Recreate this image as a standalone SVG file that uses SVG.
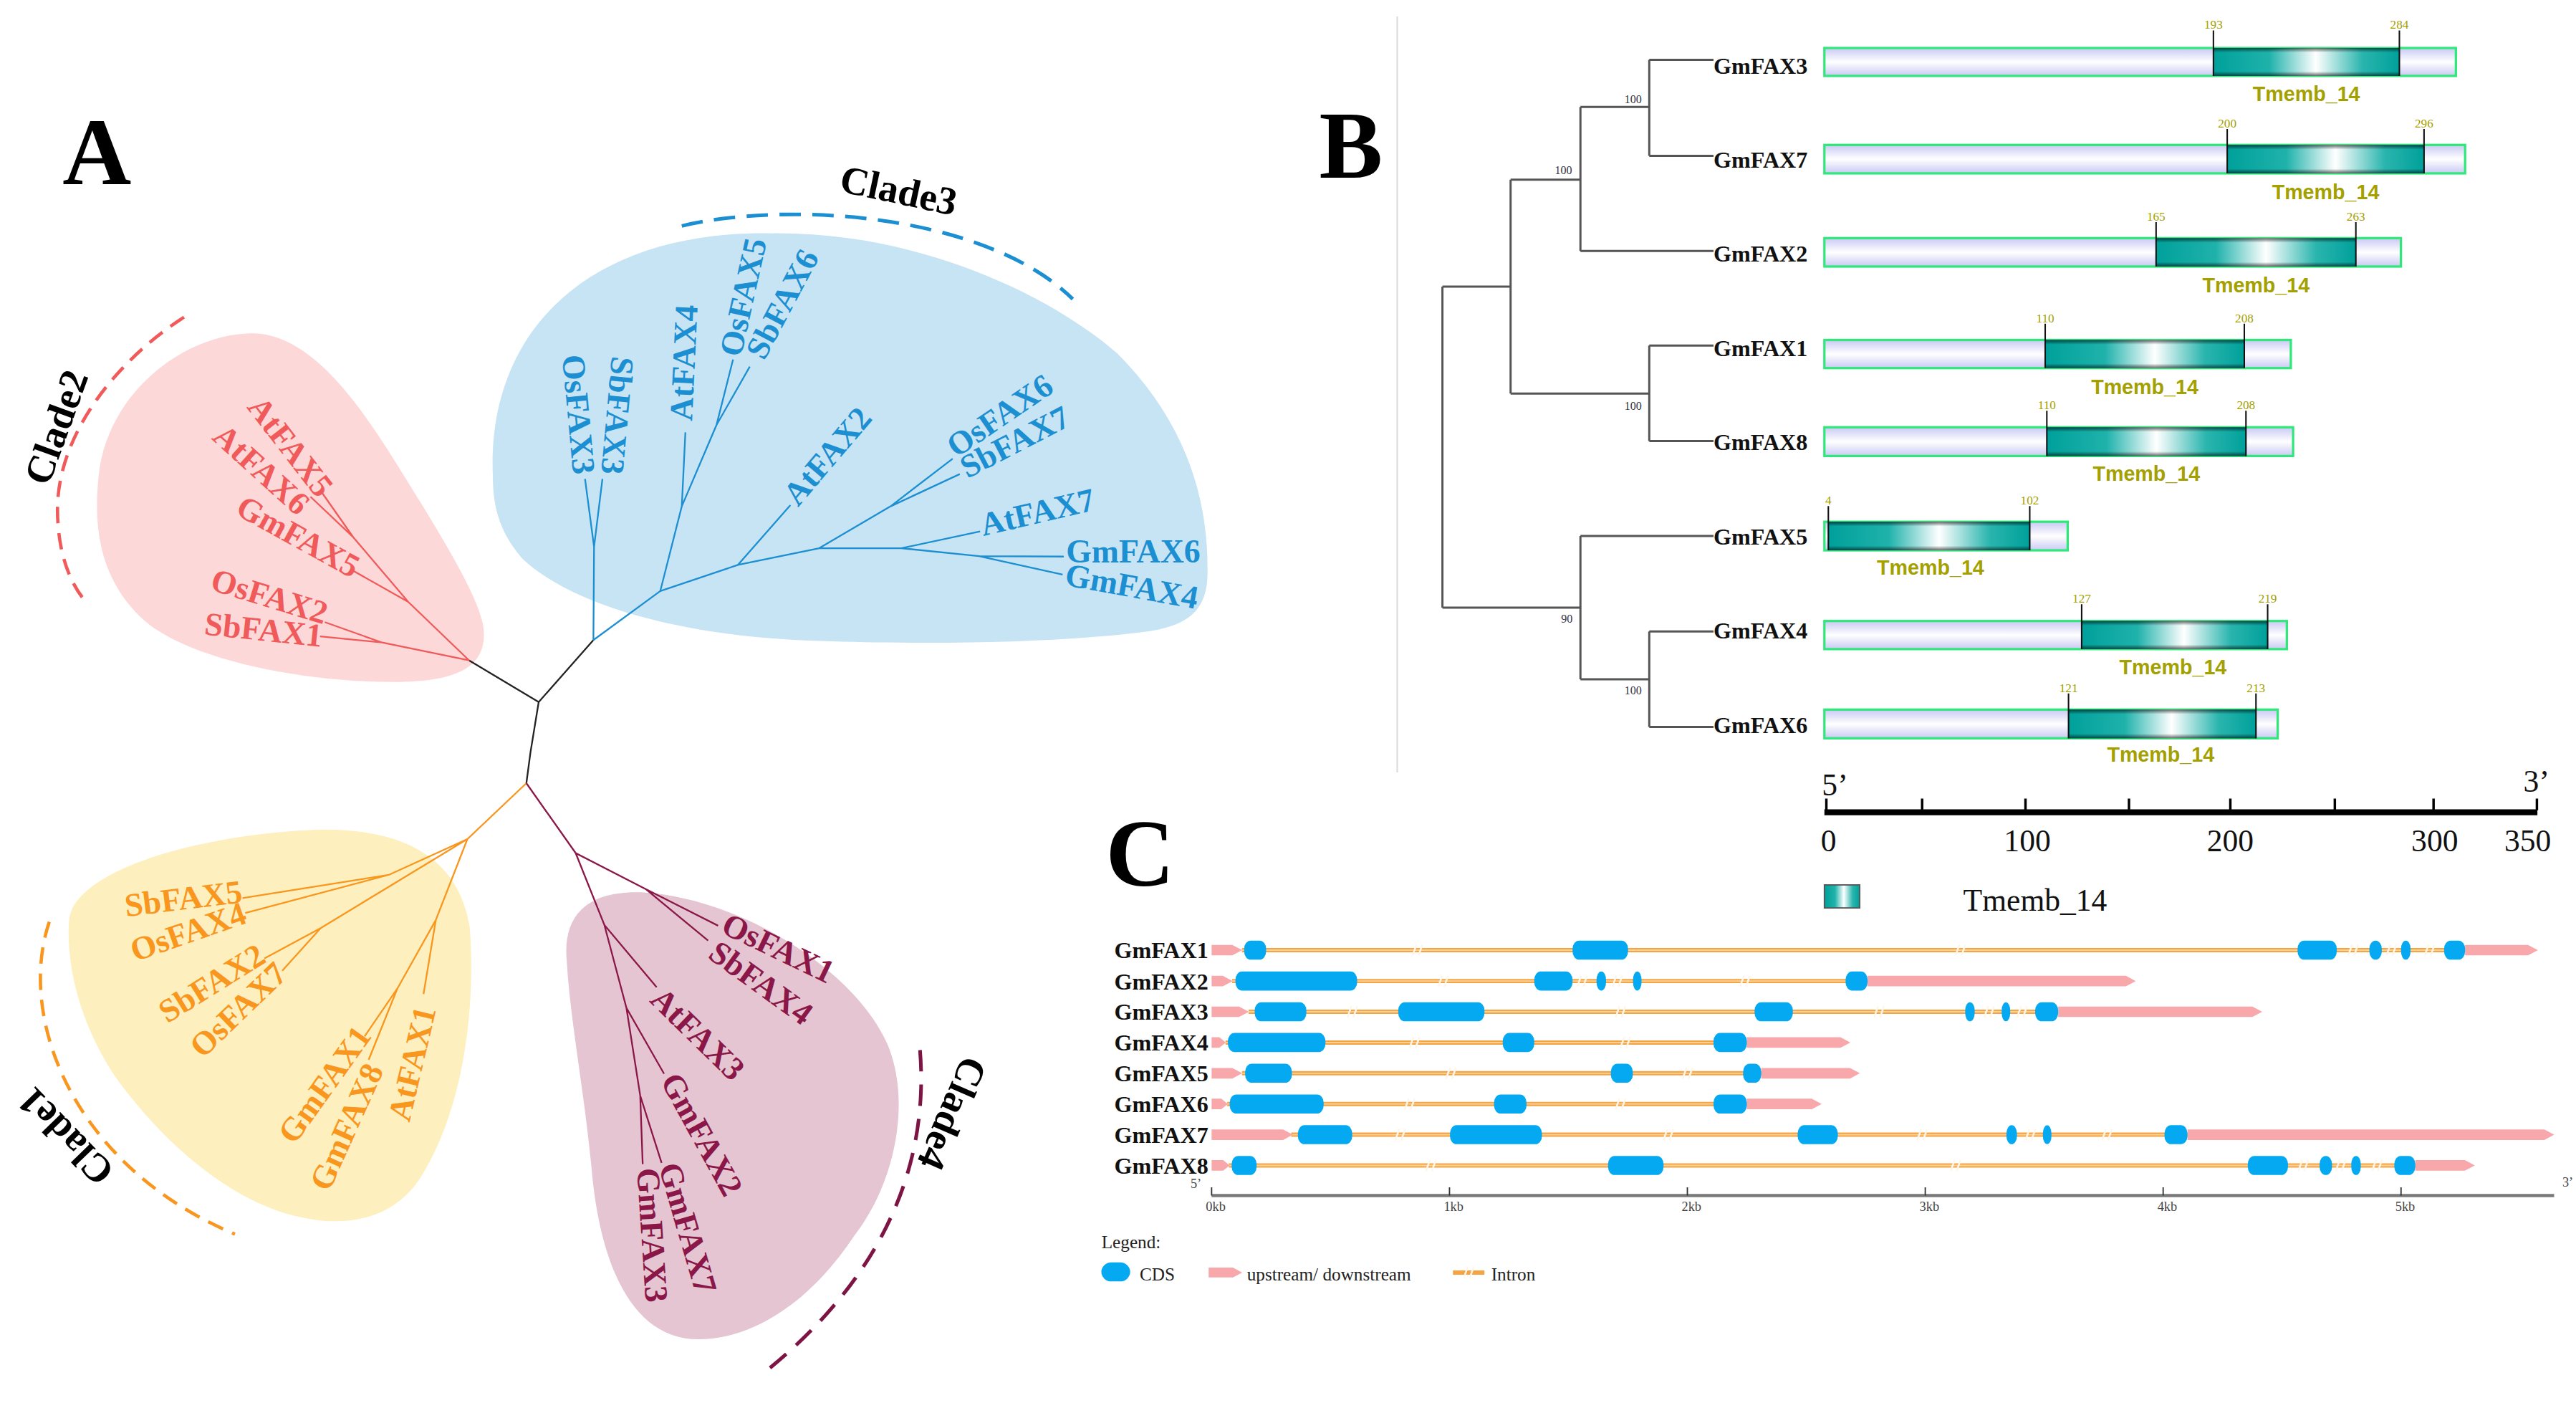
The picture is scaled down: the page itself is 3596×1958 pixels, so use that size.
<svg xmlns="http://www.w3.org/2000/svg" width="3596" height="1958" viewBox="0 0 3596 1958">
<defs>
<style>
.lt{font-family:"Liberation Serif","Times New Roman",serif;font-weight:bold;font-size:20px;text-anchor:middle}
.clade{font-family:"Liberation Serif",serif;font-weight:bold;font-size:24px;text-anchor:middle;fill:#000}
.big{font-family:"Liberation Serif",serif;font-weight:bold;font-size:58px;fill:#000}
.bg{font-family:"Liberation Serif",serif;font-weight:bold;font-size:14px;fill:#111}
.num{font-family:"Liberation Serif",serif;font-size:7.5px;fill:#a3a000;text-anchor:middle}
.tm{font-family:"Liberation Sans",Arial,sans-serif;font-weight:bold;font-size:12.5px;fill:#a3a000;text-anchor:middle}
.bs{font-family:"Liberation Serif",serif;font-size:7px;fill:#334}
.ax{font-family:"Liberation Serif",serif;font-size:19px;fill:#111}
.cg{font-family:"Liberation Serif",serif;font-weight:bold;font-size:14px;fill:#111;text-anchor:end}
.ck{font-family:"Liberation Serif",serif;font-size:8px;fill:#444;text-anchor:middle}
.leg{font-family:"Liberation Serif",serif;font-size:11px;fill:#222}
.blue{fill:#1b8fd2}.red{fill:#f15a5a}.yel{fill:#f8961d}.pur{fill:#8a1748}
.br{fill:none;stroke-width:1}
.btree{fill:none;stroke:#555;stroke-width:1.3}
.prot{fill:url(#prot);stroke:#2ee87a;stroke-width:1.4}
.dom{fill:url(#dom)}
.shade{fill:url(#domShade)}
.tick{stroke:#111;stroke-width:0.9}
.cds{fill:#05a9f2}
.utr{fill:#f8a8aa}
.intr{stroke:#f5a442;stroke-width:2.6;fill:none}
.intr2{stroke:#fcd39e;stroke-width:0.8;fill:none}
</style>
<linearGradient id="dom" x1="0" y1="0" x2="1" y2="0">
<stop offset="0" stop-color="#00a09a"/>
<stop offset="0.3" stop-color="#1fb2ab"/>
<stop offset="0.55" stop-color="#ffffff"/>
<stop offset="0.8" stop-color="#2ab5ae"/>
<stop offset="1" stop-color="#00a09a"/>
</linearGradient>
<linearGradient id="domShade" x1="0" y1="0" x2="0" y2="1">
<stop offset="0" stop-color="#000" stop-opacity="0.6"/>
<stop offset="0.16" stop-color="#000" stop-opacity="0"/>
<stop offset="0.84" stop-color="#000" stop-opacity="0"/>
<stop offset="1" stop-color="#000" stop-opacity="0.6"/>
</linearGradient>
<linearGradient id="prot" x1="0" y1="0" x2="0" y2="1">
<stop offset="0" stop-color="#c9c9f4"/>
<stop offset="0.5" stop-color="#ffffff"/>
<stop offset="1" stop-color="#c9c9f4"/>
</linearGradient>
<g id="brk"><path d="M-3,3.4 L-0.6,-3.4 M0.6,3.4 L3,-3.4" stroke="#fff6ea" stroke-width="1.1" fill="none"/></g>
</defs>
<rect width="3596" height="1958" fill="#ffffff"/>
<g transform="scale(2.29337)">

<!-- ================= PANEL A ================= -->
<g id="panelA">
<text class="big" x="38" y="112">A</text>

<g id="blobs">
<path id="blob-clade3" fill="#c7e4f4" d="M300,290 C296,200 360,140 470,142 C560,141 640,180 680,215 C720,255 735,300 735,345 C736,370 725,380 700,384 C640,392 560,392 500,390 C420,388 350,370 318,340 C305,325 300,310 300,290 Z"/>
<path id="blob-clade2" fill="#fdd8d8" d="M150,203 C185,200 215,240 240,280 C265,320 290,360 294,380 C298,405 280,415 240,415 C180,415 110,400 85,375 C60,350 57,320 60,290 C65,240 110,205 150,203 Z"/>
<path id="blob-clade1" fill="#feefbf" d="M42,560 C45,530 120,508 190,505 C250,503 280,525 286,565 C290,620 280,680 255,718 C240,740 215,746 190,742 C140,735 95,690 70,655 C50,625 40,590 42,560 Z"/>
<path id="blob-clade4" fill="#e4c5d1" d="M345,585 C342,555 360,542 390,543 C450,546 520,590 540,635 C555,670 545,720 520,752 C495,790 460,815 425,815 C385,815 365,770 360,710 C355,660 347,620 345,585 Z"/>
</g>

<g id="connectors-tree">
<path class="br" stroke="#222" d="M285.6,401.9 L327.9,427.2 L361.2,389.5 M327.9,427.2 L322.9,457.8 L320.4,476.6"/>
<path class="br" stroke="#1b8fd2" d="M361.2,389.5 L361.6,332.8 L356.1,291.4 M361.6,332.8 L366.7,291.4 M361.2,389.5 L401.9,359.7 L415,308.1 L417.2,263.1 M415,308.1 L436.1,258.7 L446.2,218.8 M436.1,258.7 L456.4,223.1 M401.9,359.7 L449.1,343.8 L481.1,307.4 M449.1,343.8 L498.6,333.6 L542.1,308.1 L579.9,279.1 M542.1,308.1 L584.2,288.5 M498.6,333.6 L548.6,333.6 L596.6,323.4 M548.6,333.6 L595.9,338.4 L647.5,338.7 M595.9,338.4 L646.8,349.6"/>
<path class="br" stroke="#f15a5a" d="M285.6,401.9 L248.5,366.3 L215.1,327 L196.2,300.1 M215.1,327 L189,302.3 M248.5,366.3 L215.1,347.4 M285.6,401.9 L232.6,391 L197.7,378.6 M232.6,391 L194.8,387.3"/>
<path class="br" stroke="#f8961d" d="M320.4,476.6 L284.5,510.6 L236.9,532.3 L147.6,546.5 M236.9,532.3 L149.3,555.6 M284.5,510.6 L195.2,564.8 L161,583.2 M195.2,564.8 L171.8,590.7 M284.5,510.6 L265.3,559.8 L257.8,604.9 M265.3,559.8 L241.9,601.5 L221.9,630.7 M241.9,601.5 L224.4,644.9"/>
<path class="br" stroke="#8a1748" d="M320.4,476.6 L350.4,519.1 L393,541 L437.1,563.3 M393,541 L431,572.4 M350.4,519.1 L367.9,562.9 L399.7,600.8 M367.9,562.9 L381.3,613.3 L404.2,653.4 M381.3,613.3 L389.7,666.7 L402.7,707.6 M389.7,666.7 L391.2,708.4"/>
</g>

<g id="clade-arcs" fill="none">
<path d="M415,137.5 C480,122 600,130 653,182" stroke="#1b8fd2" stroke-width="2.2" stroke-dasharray="13 7"/>
<path d="M112,193 C70,220 35,265 35,310 C35,335 42,355 53,367" stroke="#f15a5a" stroke-width="2" stroke-dasharray="10 6"/>
<path d="M30,561 C10,620 45,710 143,751" stroke="#f8961d" stroke-width="2" stroke-dasharray="10 6"/>
<path d="M560,639 C565,700 545,770 468,833" stroke="#7e1443" stroke-width="2.2" stroke-dasharray="13 8"/>
</g>

<g id="clade-labels">
<text class="clade" dy="0.33em" transform="translate(547,116) rotate(12)">Clade3</text>
<text class="clade" dy="0.33em" transform="translate(34.3,260) rotate(-70)">Clade2</text>
<text class="clade" dy="0.33em" transform="translate(40,691.5) rotate(-134)">Clade1</text>
<text class="clade" dy="0.33em" transform="translate(579.5,677.5) rotate(113.5)">Clade4</text>
</g>

<g id="leaves-clade3" class="blue">
<text id="a-osfax3" class="lt" dy="0.33em" transform="translate(352.1,252.2) rotate(84.8)">OsFAX3</text>
<text id="a-sbfax3" class="lt" dy="0.33em" transform="translate(375.7,252.9) rotate(95.2)">SbFAX3</text>
<text id="a-atfax4" class="lt" dy="0.33em" transform="translate(416.3,220.8) rotate(-87.2)">AtFAX4</text>
<text id="a-osfax5" class="lt" dy="0.33em" transform="translate(452.4,180.8) rotate(-77.5)">OsFAX5</text>
<text id="a-sbfax6" class="lt" dy="0.33em" transform="translate(476.2,185) rotate(-62)">SbFAX6</text>
<text id="a-atfax2" class="lt" dy="0.33em" transform="translate(503.6,277.6) rotate(-49.6)">AtFAX2</text>
<text id="a-osfax6" class="lt" dy="0.33em" transform="translate(608.6,252.9) rotate(-34.2)">OsFAX6</text>
<text id="a-sbfax7" class="lt" dy="0.33em" transform="translate(617.7,269) rotate(-27.4)">SbFAX7</text>
<text id="a-atfax7" class="lt" dy="0.33em" transform="translate(631.5,311.7) rotate(-13.1)">AtFAX7</text>
<text id="a-gmfax6" class="lt" dy="0.33em" transform="translate(689.8,335.8)">GmFAX6</text>
<text id="a-gmfax4" class="lt" dy="0.33em" transform="translate(688.9,356.8) rotate(10.3)">GmFAX4</text>
</g>
<g id="leaves-clade2" class="red">
<text id="a-atfax5" class="lt" dy="0.33em" transform="translate(176.8,271.8) rotate(52.2)">AtFAX5</text>
<text id="a-atfax6" class="lt" dy="0.33em" transform="translate(159.1,285.8) rotate(42.1)">AtFAX6</text>
<text id="a-gmfax5" class="lt" dy="0.33em" transform="translate(181.5,326.5) rotate(28.8)">GmFAX5</text>
<text id="a-osfax2" class="lt" dy="0.33em" transform="translate(164,363) rotate(17)">OsFAX2</text>
<text id="a-sbfax1" class="lt" dy="0.33em" transform="translate(160.4,383.3) rotate(6)">SbFAX1</text>
</g>
<g id="leaves-clade1" class="yel">
<text id="a-sbfax5" class="lt" dy="0.33em" transform="translate(111.6,546.9) rotate(-7)">SbFAX5</text>
<text id="a-osfax4" class="lt" dy="0.33em" transform="translate(114.5,567.1) rotate(-19.1)">OsFAX4</text>
<text id="a-sbfax2" class="lt" dy="0.33em" transform="translate(128.9,598.4) rotate(-32)">SbFAX2</text>
<text id="a-osfax7" class="lt" dy="0.33em" transform="translate(145,614.5) rotate(-44)">OsFAX7</text>
<text id="a-gmfax1" class="lt" dy="0.33em" transform="translate(197.6,660) rotate(-54.5)">GmFAX1</text>
<text id="a-gmfax8" class="lt" dy="0.33em" transform="translate(211,685.8) rotate(-65.8)">GmFAX8</text>
<text id="a-atfax1" class="lt" dy="0.33em" transform="translate(250.9,647.4) rotate(-76.7)">AtFAX1</text>
</g>
<g id="leaves-clade4" class="pur">
<text id="a-osfax1" class="lt" dy="0.33em" transform="translate(473.7,577) rotate(25.7)">OsFAX1</text>
<text id="a-sbfax4" class="lt" dy="0.33em" transform="translate(463.2,598.1) rotate(35.8)">SbFAX4</text>
<text id="a-atfax3" class="lt" dy="0.33em" transform="translate(424.7,629.2) rotate(44.3)">AtFAX3</text>
<text id="a-gmfax2" class="lt" dy="0.33em" transform="translate(427.2,690.3) rotate(61.2)">GmFAX2</text>
<text id="a-gmfax7" class="lt" dy="0.33em" transform="translate(418.6,747.3) rotate(73.7)">GmFAX7</text>
<text id="a-gmfax3" class="lt" dy="0.33em" transform="translate(397,751.6) rotate(86.3)">GmFAX3</text>
</g>
</g>

<!-- ================= PANEL B ================= -->
<g id="panelB">
<line x1="850.5" y1="10" x2="850.5" y2="470" stroke="#dddddd" stroke-width="1"/>
<text class="big" x="803" y="108">B</text>

<g id="connectors-B">
<path class="btree" d="M878,174.4 V369.8 M878,174.4 H919.5 M919.5,109.3 V239.5 M919.5,109.3 H962 M962,65.1 V152.7 M962,65.1 H1003.9 M1003.9,36.4 V94.8 M1003.9,36.4 H1043 M1003.9,94.8 H1043 M962,152.7 H1043 M919.5,239.5 H1003.9 M1003.9,210.3 V268.4 M1003.9,210.3 H1043 M1003.9,268.4 H1043 M878,369.8 H962 M962,326.2 V413.4 M962,326.2 H1043 M962,413.4 H1003.9 M1003.9,384.3 V442.4 M1003.9,384.3 H1043 M1003.9,442.4 H1043"/>
<text class="bs" x="988.8" y="62.6">100</text>
<text class="bs" x="946.4" y="106">100</text>
<text class="bs" x="988.8" y="249.5">100</text>
<text class="bs" x="950.2" y="379">90</text>
<text class="bs" x="988.8" y="422.6">100</text>
</g>

<g id="b-gmfax3">
<text class="bg" x="1043" y="45">GmFAX3</text>
<rect class="prot" x="1110.5" y="29.2" width="384.4" height="17"/>
<rect class="dom" x="1347.3" y="29.2" width="113.2" height="17"/>
<rect class="shade" x="1347.3" y="29.2" width="113.2" height="17"/>
<path class="tick" d="M1347.3,18.5 V46.2 M1460.5,18.5 V46.2"/>
<text class="num" x="1347.3" y="17.5">193</text><text class="num" x="1460.5" y="17.5">284</text>
<text class="tm" x="1403.9" y="61.5">Tmemb_14</text>
</g>
<g id="b-gmfax7">
<text class="bg" x="1043" y="102">GmFAX7</text>
<rect class="prot" x="1110.5" y="88.2" width="390" height="17.3"/>
<rect class="dom" x="1355.7" y="88.2" width="119.8" height="17.3"/>
<rect class="shade" x="1355.7" y="88.2" width="119.8" height="17.3"/>
<path class="tick" d="M1355.7,78.5 V105.5 M1475.5,78.5 V105.5"/>
<text class="num" x="1355.7" y="77.6">200</text><text class="num" x="1475.5" y="77.6">296</text>
<text class="tm" x="1415.6" y="121.3">Tmemb_14</text>
</g>
<g id="b-gmfax2">
<text class="bg" x="1043" y="159.2">GmFAX2</text>
<rect class="prot" x="1110.5" y="144.9" width="350.9" height="17.3"/>
<rect class="dom" x="1312.4" y="144.9" width="121.6" height="17.3"/>
<rect class="shade" x="1312.4" y="144.9" width="121.6" height="17.3"/>
<path class="tick" d="M1312.4,135.2 V162.2 M1434,135.2 V162.2"/>
<text class="num" x="1312.4" y="134.3">165</text><text class="num" x="1434" y="134.3">263</text>
<text class="tm" x="1373.2" y="178">Tmemb_14</text>
</g>
<g id="b-gmfax1">
<text class="bg" x="1043" y="216.6">GmFAX1</text>
<rect class="prot" x="1110.5" y="206.9" width="283.9" height="17.1"/>
<rect class="dom" x="1244.9" y="206.9" width="121.2" height="17.1"/>
<rect class="shade" x="1244.9" y="206.9" width="121.2" height="17.1"/>
<path class="tick" d="M1244.9,197 V224 M1366.1,197 V224"/>
<text class="num" x="1244.9" y="196.1">110</text><text class="num" x="1366.1" y="196.1">208</text>
<text class="tm" x="1305.5" y="240">Tmemb_14</text>
</g>
<g id="b-gmfax8">
<text class="bg" x="1043" y="274">GmFAX8</text>
<rect class="prot" x="1110.5" y="260" width="285.3" height="17.5"/>
<rect class="dom" x="1245.9" y="260" width="121.2" height="17.5"/>
<rect class="shade" x="1245.9" y="260" width="121.2" height="17.5"/>
<path class="tick" d="M1245.9,250 V277.5 M1367.1,250 V277.5"/>
<text class="num" x="1245.9" y="249">110</text><text class="num" x="1367.1" y="249">208</text>
<text class="tm" x="1306.5" y="292.4">Tmemb_14</text>
</g>
<g id="b-gmfax5">
<text class="bg" x="1043" y="331.4">GmFAX5</text>
<rect class="prot" x="1110.5" y="317.5" width="148.1" height="17.4"/>
<rect class="dom" x="1112.9" y="317.5" width="122.6" height="17.4"/>
<rect class="shade" x="1112.9" y="317.5" width="122.6" height="17.4"/>
<path class="tick" d="M1112.9,308 V334.9 M1235.5,308 V334.9"/>
<text class="num" x="1112.9" y="307">4</text><text class="num" x="1235.5" y="307">102</text>
<text class="tm" x="1175.1" y="349.7">Tmemb_14</text>
</g>
<g id="b-gmfax4">
<text class="bg" x="1043" y="388.7">GmFAX4</text>
<rect class="prot" x="1110.5" y="377.9" width="281.5" height="17.1"/>
<rect class="dom" x="1267.1" y="377.9" width="113.2" height="17.1"/>
<rect class="shade" x="1267.1" y="377.9" width="113.2" height="17.1"/>
<path class="tick" d="M1267.1,367.7 V395 M1380.3,367.7 V395"/>
<text class="num" x="1267.1" y="366.8">127</text><text class="num" x="1380.3" y="366.8">219</text>
<text class="tm" x="1322.7" y="410.2">Tmemb_14</text>
</g>
<g id="b-gmfax6">
<text class="bg" x="1043" y="446">GmFAX6</text>
<rect class="prot" x="1110.5" y="431.8" width="275.9" height="17.5"/>
<rect class="dom" x="1259.1" y="431.8" width="114.1" height="17.5"/>
<rect class="shade" x="1259.1" y="431.8" width="114.1" height="17.5"/>
<path class="tick" d="M1259.1,422 V449.3 M1373.2,422 V449.3"/>
<text class="num" x="1259.1" y="421">121</text><text class="num" x="1373.2" y="421">213</text>
<text class="tm" x="1315.2" y="463.7">Tmemb_14</text>
</g>

<g id="b-scale">
<text class="ax" x="1109" y="484">5’</text>
<text class="ax" x="1536" y="482">3’</text>
<rect x="1110.5" y="492.5" width="434" height="3.6" fill="#000"/>
<path stroke="#000" stroke-width="1.5" d="M1111.7,486 V493 M1170,486 V493 M1232.9,486 V493 M1295.9,486 V493 M1357.6,486 V493 M1421.2,486 V493 M1481.3,486 V493 M1544.2,486 V493"/>
<g class="ax" text-anchor="middle">
<text x="1113" y="518">0</text><text x="1234" y="518">100</text><text x="1357.6" y="518">200</text><text x="1482" y="518">300</text><text x="1538.6" y="518">350</text>
</g>
</g>
<g id="b-legend">
<rect class="dom" x="1110.5" y="538.5" width="21.5" height="14" stroke="#555" stroke-width="0.8"/>
<text class="ax" x="1195" y="554">Tmemb_14</text>
</g>
</g>

<!-- ================= PANEL C ================= -->
<g id="panelC">
<text class="big" x="673" y="539">C</text>

<g id="c-gmfax1">
<text class="cg" x="735.5" y="583.2">GmFAX1</text>
<line class="intr" x1="756" y1="578.2" x2="1500.5" y2="578.2"/><line class="intr2" x1="756" y1="578.2" x2="1500.5" y2="578.2"/>
<polygon class="utr" points="737.5,575 750.1,575 756.1,578.2 750.1,581.4 737.5,581.4"/>
<polygon class="utr" points="1500.5,575 1538.8,575 1544.8,578.2 1538.8,581.4 1500.5,581.4"/>
<rect class="cds" x="757.3" y="572.4" width="13.4" height="11.6" rx="4" ry="5"/>
<rect class="cds" x="957.2" y="572.4" width="33.8" height="11.6" rx="4" ry="5"/>
<rect class="cds" x="1398.5" y="572.4" width="23.9" height="11.6" rx="4" ry="5"/>
<rect class="cds" x="1442.2" y="572.4" width="7.6" height="11.6" rx="4" ry="5"/>
<rect class="cds" x="1461.5" y="572.4" width="5.8" height="11.6" rx="4" ry="5"/>
<rect class="cds" x="1487.7" y="572.4" width="12.8" height="11.6" rx="4" ry="5"/>
<use href="#brk" x="862.8" y="578.2"/><use href="#brk" x="1193.3" y="578.2"/><use href="#brk" x="1432.3" y="578.2"/><use href="#brk" x="1455.6" y="578.2"/><use href="#brk" x="1478.9" y="578.2"/>
</g>
<g id="c-gmfax2">
<text class="cg" x="735.5" y="602">GmFAX2</text>
<line class="intr" x1="750" y1="597" x2="1136.8" y2="597"/><line class="intr2" x1="750" y1="597" x2="1136.8" y2="597"/>
<polygon class="utr" points="737.5,593.8 744.3,593.8 750.3,597 744.3,600.2 737.5,600.2"/>
<polygon class="utr" points="1136.8,593.8 1294,593.8 1300,597 1294,600.2 1136.8,600.2"/>
<rect class="cds" x="752" y="591.2" width="74.1" height="11.6" rx="4" ry="5"/>
<rect class="cds" x="933.9" y="591.2" width="23.3" height="11.6" rx="4" ry="5"/>
<rect class="cds" x="971.8" y="591.2" width="5.8" height="11.6" rx="4" ry="5"/>
<rect class="cds" x="994" y="591.2" width="5.2" height="11.6" rx="4" ry="5"/>
<rect class="cds" x="1123.4" y="591.2" width="13.4" height="11.6" rx="4" ry="5"/>
<use href="#brk" x="878.5" y="597"/><use href="#brk" x="963.1" y="597"/><use href="#brk" x="984.5" y="597"/><use href="#brk" x="1062.2" y="597"/>
</g>
<g id="c-gmfax3">
<text class="cg" x="735.5" y="620.7">GmFAX3</text>
<line class="intr" x1="760" y1="615.7" x2="1252.8" y2="615.7"/><line class="intr2" x1="760" y1="615.7" x2="1252.8" y2="615.7"/>
<polygon class="utr" points="737.5,612.5 754.2,612.5 760.2,615.7 754.2,618.9 737.5,618.9"/>
<polygon class="utr" points="1252.8,612.5 1371,612.5 1377,615.7 1371,618.9 1252.8,618.9"/>
<rect class="cds" x="763.7" y="609.9" width="31.5" height="11.6" rx="4" ry="5"/>
<rect class="cds" x="851.1" y="609.9" width="52.5" height="11.6" rx="4" ry="5"/>
<rect class="cds" x="1068" y="609.9" width="23.3" height="11.6" rx="4" ry="5"/>
<rect class="cds" x="1196.2" y="609.9" width="5.8" height="11.6" rx="4" ry="5"/>
<rect class="cds" x="1218.4" y="609.9" width="5.2" height="11.6" rx="4" ry="5"/>
<rect class="cds" x="1238.8" y="609.9" width="14" height="11.6" rx="4" ry="5"/>
<use href="#brk" x="823.2" y="615.7"/><use href="#brk" x="986.4" y="615.7"/><use href="#brk" x="1143.8" y="615.7"/><use href="#brk" x="1210.8" y="615.7"/><use href="#brk" x="1230.8" y="615.7"/>
</g>
<g id="c-gmfax4">
<text class="cg" x="735.5" y="639.4">GmFAX4</text>
<line class="intr" x1="746" y1="634.4" x2="1063.3" y2="634.4"/><line class="intr2" x1="746" y1="634.4" x2="1063.3" y2="634.4"/>
<polygon class="utr" points="737.5,631.2 742.2,631.2 746.2,634.4 742.2,637.6 737.5,637.6"/>
<polygon class="utr" points="1063.3,631.2 1120.3,631.2 1126.3,634.4 1120.3,637.6 1063.3,637.6"/>
<rect class="cds" x="747.4" y="628.6" width="59.4" height="11.6" rx="4" ry="5"/>
<rect class="cds" x="914.7" y="628.6" width="19.2" height="11.6" rx="4" ry="5"/>
<rect class="cds" x="1043" y="628.6" width="20.3" height="11.6" rx="4" ry="5"/>
<use href="#brk" x="861" y="634.4"/><use href="#brk" x="989.3" y="634.4"/>
</g>
<g id="c-gmfax5">
<text class="cg" x="735.5" y="658.1">GmFAX5</text>
<line class="intr" x1="756" y1="653.1" x2="1072.1" y2="653.1"/><line class="intr2" x1="756" y1="653.1" x2="1072.1" y2="653.1"/>
<polygon class="utr" points="737.5,649.9 750.1,649.9 756.1,653.1 750.1,656.3 737.5,656.3"/>
<polygon class="utr" points="1072.1,649.9 1126.1,649.9 1132.1,653.1 1126.1,656.3 1072.1,656.3"/>
<rect class="cds" x="757.9" y="647.3" width="28.5" height="11.6" rx="4" ry="5"/>
<rect class="cds" x="980.5" y="647.3" width="13.4" height="11.6" rx="4" ry="5"/>
<rect class="cds" x="1061" y="647.3" width="11.1" height="11.6" rx="4" ry="5"/>
<use href="#brk" x="883.2" y="653.1"/><use href="#brk" x="1027.2" y="653.1"/>
</g>
<g id="c-gmfax6">
<text class="cg" x="735.5" y="676.8">GmFAX6</text>
<line class="intr" x1="747" y1="671.8" x2="1063.3" y2="671.8"/><line class="intr2" x1="747" y1="671.8" x2="1063.3" y2="671.8"/>
<polygon class="utr" points="737.5,668.6 743.4,668.6 747.4,671.8 743.4,675 737.5,675"/>
<polygon class="utr" points="1063.3,668.6 1102.8,668.6 1108.8,671.8 1102.8,675 1063.3,675"/>
<rect class="cds" x="748.5" y="666" width="57.2" height="11.6" rx="4" ry="5"/>
<rect class="cds" x="909.4" y="666" width="19.8" height="11.6" rx="4" ry="5"/>
<rect class="cds" x="1043" y="666" width="20.3" height="11.6" rx="4" ry="5"/>
<use href="#brk" x="858.1" y="671.8"/><use href="#brk" x="986.4" y="671.8"/>
</g>
<g id="c-gmfax7">
<text class="cg" x="735.5" y="695.5">GmFAX7</text>
<line class="intr" x1="786" y1="690.5" x2="1331.5" y2="690.5"/><line class="intr2" x1="786" y1="690.5" x2="1331.5" y2="690.5"/>
<polygon class="utr" points="737.5,687.3 781,687.3 787,690.5 781,693.7 737.5,693.7"/>
<polygon class="utr" points="1331.5,687.3 1548.7,687.3 1554.7,690.5 1548.7,693.7 1331.5,693.7"/>
<rect class="cds" x="790" y="684.7" width="33.1" height="11.6" rx="4" ry="5"/>
<rect class="cds" x="882.6" y="684.7" width="56" height="11.6" rx="4" ry="5"/>
<rect class="cds" x="1094.2" y="684.7" width="24.5" height="11.6" rx="4" ry="5"/>
<rect class="cds" x="1221.3" y="684.7" width="6.4" height="11.6" rx="4" ry="5"/>
<rect class="cds" x="1243.5" y="684.7" width="5.2" height="11.6" rx="4" ry="5"/>
<rect class="cds" x="1317.5" y="684.7" width="14" height="11.6" rx="4" ry="5"/>
<use href="#brk" x="852.3" y="690.5"/><use href="#brk" x="1015.5" y="690.5"/><use href="#brk" x="1170" y="690.5"/><use href="#brk" x="1235.9" y="690.5"/><use href="#brk" x="1282.5" y="690.5"/>
</g>
<g id="c-gmfax8">
<text class="cg" x="735.5" y="714.2">GmFAX8</text>
<line class="intr" x1="748" y1="709.2" x2="1470.2" y2="709.2"/><line class="intr2" x1="748" y1="709.2" x2="1470.2" y2="709.2"/>
<polygon class="utr" points="737.5,706 744.5,706 748.5,709.2 744.5,712.4 737.5,712.4"/>
<polygon class="utr" points="1470.2,706 1500.4,706 1506.4,709.2 1500.4,712.4 1470.2,712.4"/>
<rect class="cds" x="749.7" y="703.4" width="15.2" height="11.6" rx="4" ry="5"/>
<rect class="cds" x="978.8" y="703.4" width="33.8" height="11.6" rx="4" ry="5"/>
<rect class="cds" x="1368.2" y="703.4" width="24.5" height="11.6" rx="4" ry="5"/>
<rect class="cds" x="1411.9" y="703.4" width="7.6" height="11.6" rx="4" ry="5"/>
<rect class="cds" x="1431.2" y="703.4" width="5.8" height="11.6" rx="4" ry="5"/>
<rect class="cds" x="1457.4" y="703.4" width="12.8" height="11.6" rx="4" ry="5"/>
<use href="#brk" x="871" y="709.2"/><use href="#brk" x="1190.4" y="709.2"/><use href="#brk" x="1402" y="709.2"/><use href="#brk" x="1424.8" y="709.2"/><use href="#brk" x="1446.9" y="709.2"/>
</g>

<g id="c-scale">
<line x1="737.5" y1="727.5" x2="1554.7" y2="727.5" stroke="#7a7a7a" stroke-width="2"/>
<path stroke="#333" stroke-width="0.8" d="M737.5,722.5 V727.5 M882.3,722.5 V727.5 M1027.1,722.5 V727.5 M1171.9,722.5 V727.5 M1316.7,722.5 V727.5 M1461.5,722.5 V727.5"/>
<text class="ck" x="740" y="737">0kb</text><text class="ck" x="884.8" y="737">1kb</text><text class="ck" x="1029.6" y="737">2kb</text><text class="ck" x="1174.4" y="737">3kb</text><text class="ck" x="1319.2" y="737">4kb</text><text class="ck" x="1464" y="737">5kb</text>
<text class="ck" x="728" y="723">5’</text><text class="ck" x="1563" y="722">3’</text>
</g>

<g id="c-legend">
<text class="leg" x="670.5" y="759.5" font-size="14">Legend:</text>
<rect class="cds" x="670.4" y="768.2" width="17.5" height="11.6" rx="6" ry="5.8"/>
<text class="leg" x="693.7" y="779">CDS</text>
<polygon class="utr" points="735.7,771.4 750.5,771.4 756.1,774.4 750.5,777.4 735.7,777.4"/>
<text class="leg" x="759" y="779">upstream/ downstream</text>
<line class="intr" x1="884.4" y1="774.4" x2="903.6" y2="774.4"/>
<use href="#brk" x="894" y="774.4"/>
<text class="leg" x="907.7" y="779">Intron</text>
</g>
</g>
</g>
</svg>
